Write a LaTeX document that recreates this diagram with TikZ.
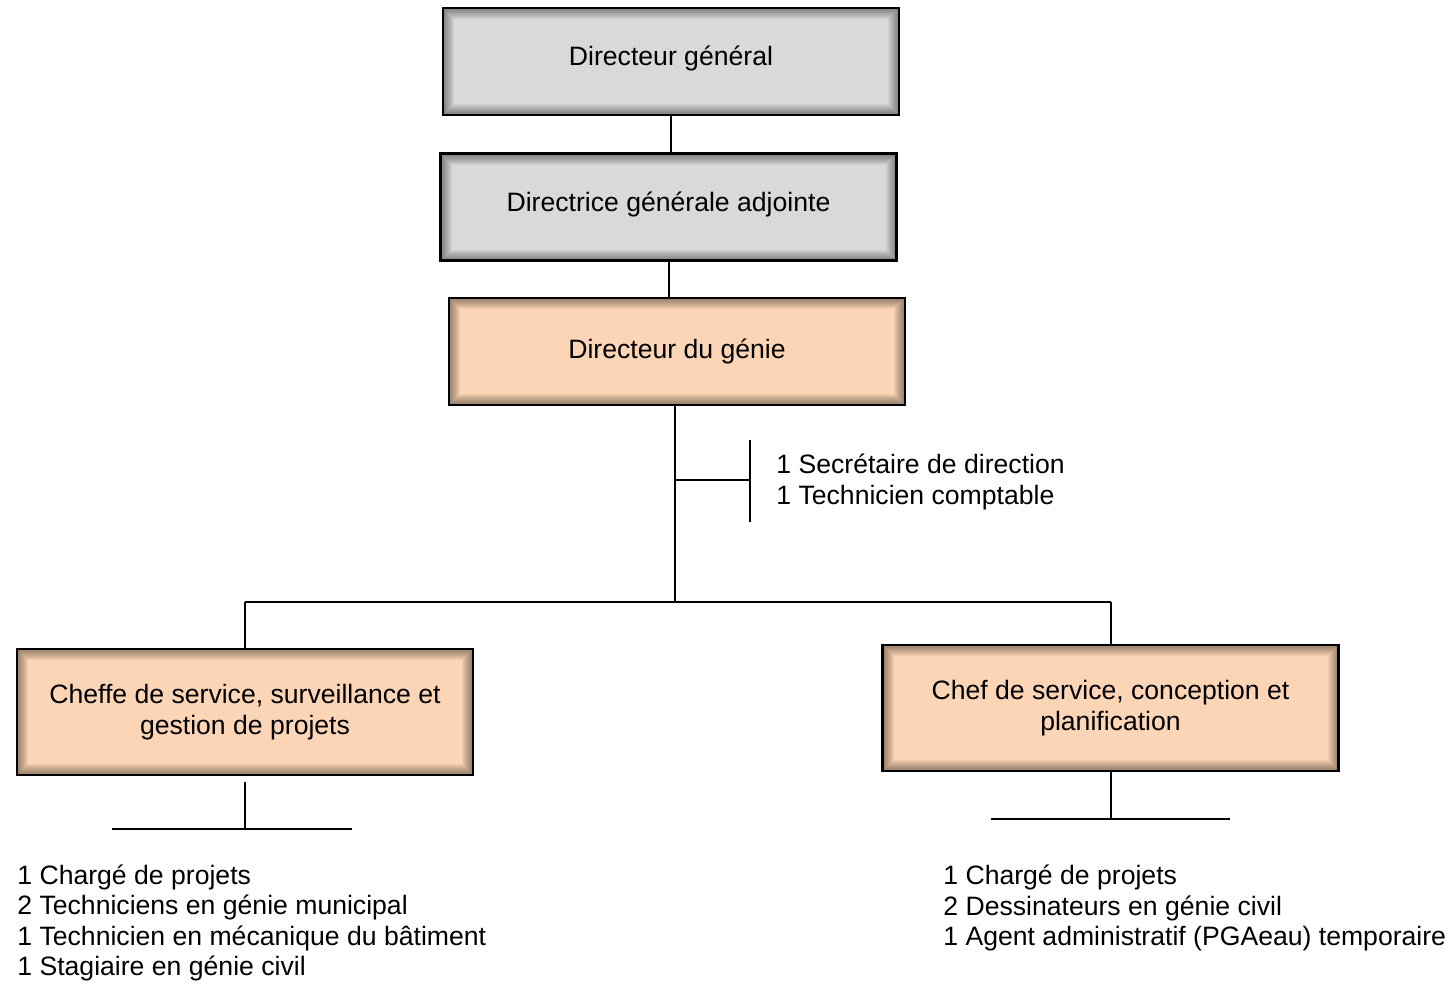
\documentclass[tikz,border=0pt]{standalone}
\usepackage{fontspec}
\setmainfont{Liberation Sans}
\usetikzlibrary{positioning}

\definecolor{grayfill}{HTML}{D9D9D9}
\definecolor{peach}{HTML}{FBD5B5}

\begin{document}
\begin{tikzpicture}[x=0.5pt,y=-0.5pt]
		\tikzstyle{box}=[draw=black, line width=1.2pt, minimum width=228pt, minimum height=53.5pt, align=center,
			font=\fontsize{13.3}{15.25}\selectfont,
			path picture={\foreach \w in {1,...,11}{\draw[black,opacity=0.045,line width=\w pt] (path picture bounding box.south west) rectangle (path picture bounding box.north east);}}]
		\tikzstyle{top}=[box, fill=grayfill, text depth=0.55em]
		\tikzstyle{unit}=[box, fill=peach]
		\tikzstyle{staff}=[align=left, anchor=west, inner xsep=0pt, font=\fontsize{13.3}{15.25}\selectfont]
		\tikzstyle{link}=[line width=1pt]

		\useasboundingbox (0,0) rectangle (1453,986);

		\node[top] (dg) at (671,61.5) {Directeur général};
		\node[top] (dga) at (668.5,207) {Directrice générale adjointe};
		\node[unit] (genie) at (677,351.5) {Directeur du génie};
		\node[unit, minimum height=63pt] (surv) at (245,712) {Cheffe de service, surveillance et\\gestion de projets};
		\node[unit, minimum height=63pt] (conc) at (1110.5,708) {Chef de service, conception et\\planification};

		\draw [link] (dg.south) -- (dg.south |- dga.north);
		\draw [link] (dga.south) -- (dga.south |- genie.north);

		\coordinate (j) at (675,602);
		\coordinate (s) at (750,480);
		\coordinate (sa) at (750,440);
		\coordinate (sb) at (750,522);
		\draw [link] (genie.south -| j) -- (j);
		\draw [link] (j |- s) -- (s);
		\draw [link] (sa) -- (sb);
		\node[staff] (sec) at (776,482) {1 Secrétaire de direction\\1 Technicien comptable};

		\draw [link] (surv.north |- j) -- (conc.north |- j);
		\draw [link] (surv.north |- j) -- (surv.north);
		\draw [link] (conc.north |- j) -- (conc.north);

		\coordinate (l1) at (112,829);
		\coordinate (l2) at (352,829);
		\draw [link] ([yshift=-3pt]surv.south) -- (surv.south |- l1);
		\draw [link] (l1) -- (l2);
		\node[staff] (survstaff) at (17,923) {1 Chargé de projets\\2 Techniciens en génie municipal\\1 Technicien en mécanique du bâtiment\\1 Stagiaire en génie civil};

		\coordinate (r1) at (991,819);
		\coordinate (r2) at (1230,819);
		\draw [link] (conc.south) -- (conc.south |- r1);
		\draw [link] (r1) -- (r2);
		\node[staff] (concstaff) at (943,908) {1 Chargé de projets\\2 Dessinateurs en génie civil\\1 Agent administratif (PGAeau) temporaire};
\end{tikzpicture}
\end{document}
